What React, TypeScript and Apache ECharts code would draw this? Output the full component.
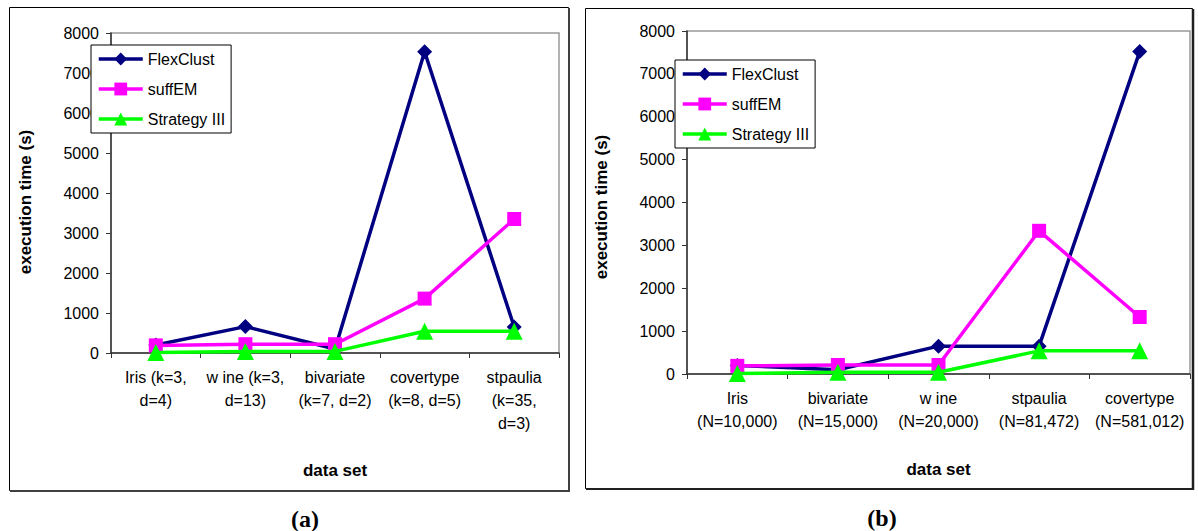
import React, { useEffect, useRef } from "react";
import * as echarts from "echarts";

const seriesNames = ["FlexClust", "suffEM", "Strategy III"];
const seriesColors = ["#000080", "#FF00FF", "#00FF00"];
const seriesSymbols = ["diamond", "rect", "triangle"];
const seriesSymbolSizes = [15, 14, 17];

const yTicks = { min: 0, max: 8000, interval: 1000 };

const aCategories = [
  "Iris (k=3,\nd=4)",
  "w ine (k=3,\nd=13)",
  "bivariate\n(k=7, d=2)",
  "covertype\n(k=8, d=5)",
  "stpaulia\n(k=35,\nd=3)",
];
const aFlexClust = [200, 660, 100, 7530, 650];
const aSuffEM = [190, 220, 220, 1360, 3350];
const aStrategy = [10, 40, 40, 545, 545];

const bCategories = [
  "Iris\n(N=10,000)",
  "bivariate\n(N=15,000)",
  "w ine\n(N=20,000)",
  "stpaulia\n(N=81,472)",
  "covertype\n(N=581,012)",
];
const bFlexClust = [200, 100, 650, 650, 7520];
const bSuffEM = [190, 210, 210, 3340, 1330];
const bStrategy = [10, 40, 40, 540, 545];

const FONT = "'Liberation Sans', Arial, sans-serif";

export default function App() {
  const ref = useRef<HTMLDivElement>(null);

  useEffect(() => {
    if (!ref.current) return;
    const chart = echarts.init(ref.current, null, { renderer: "svg" });

    const makeX = (gridIndex: number, data: string[], nameGap: number) => ({
      type: "category",
      gridIndex,
      data,
      boundaryGap: true,
      name: "data set",
      nameLocation: "middle",
      nameGap,
      nameTextStyle: { fontFamily: FONT, fontSize: 17, fontWeight: "bold", color: "#000" },
      axisLine: { show: true, lineStyle: { color: "#333", width: 1.5 } },
      axisTick: { show: true, alignWithLabel: false, length: 5, inside: false, lineStyle: { color: "#333" } },
      axisLabel: {
        interval: 0,
        margin: 13,
        fontFamily: FONT,
        fontSize: 16,
        lineHeight: 23,
        color: "#000",
      },
      splitLine: { show: false },
    });

    const makeY = (gridIndex: number, padRight: number) => ({
      type: "value",
      gridIndex,
      min: yTicks.min,
      max: yTicks.max,
      interval: yTicks.interval,
      name: "execution time (s)",
      nameLocation: "middle",
      nameGap: 77,
      nameTextStyle: {
        fontFamily: FONT,
        fontSize: 17,
        fontWeight: "bold",
        color: "#000",
        padding: [0, padRight, 0, 0],
      },
      axisLine: { show: true, lineStyle: { color: "#333", width: 1.5 } },
      axisTick: { show: true, length: 5, inside: false, lineStyle: { color: "#333" } },
      axisLabel: {
        margin: 12,
        fontFamily: FONT,
        fontSize: 16,
        color: "#000",
        formatter: (v: number) => String(v),
      },
      splitLine: { show: false },
    });

    const makeSeries = (idx: number, axisIndex: number, data: number[]) => ({
      type: "line",
      name: seriesNames[idx],
      xAxisIndex: axisIndex,
      yAxisIndex: axisIndex,
      data,
      symbol: seriesSymbols[idx],
      symbolSize: seriesSymbolSizes[idx],
      showAllSymbol: true,
      lineStyle: { color: seriesColors[idx], width: 3.5 },
      itemStyle: { color: seriesColors[idx] },
      z: 3 + idx,
    });

    const makeLegend = (left: number, top: number) => ({
      orient: "vertical",
      left,
      top,
      data: seriesNames,
      itemWidth: 44,
      itemHeight: 16,
      itemGap: 12,
      padding: [5, 6, 5, 6],
      borderColor: "#000",
      borderWidth: 1,
      backgroundColor: "#fff",
      lineStyle: { width: 3.5 },
      textStyle: { fontFamily: FONT, fontSize: 16, lineHeight: 18, color: "#000" },
      selectedMode: false,
    });

    chart.setOption({
      animation: false,
      backgroundColor: "#fff",
      grid: [
        { left: 111, top: 33, width: 448, height: 320, show: true, borderColor: "#999", borderWidth: 1.5, backgroundColor: "transparent" },
        { left: 687, top: 31, width: 503, height: 343, show: true, borderColor: "#999", borderWidth: 1.5, backgroundColor: "transparent" },
      ],
      xAxis: [makeX(0, aCategories, 109), makeX(1, bCategories, 87)],
      yAxis: [makeY(0, 18), makeY(1, 9)],
      legend: [makeLegend(91, 45), makeLegend(675, 60)],
      series: [
        makeSeries(0, 0, aFlexClust),
        makeSeries(1, 0, aSuffEM),
        makeSeries(2, 0, aStrategy),
        makeSeries(0, 1, bFlexClust),
        makeSeries(1, 1, bSuffEM),
        makeSeries(2, 1, bStrategy),
      ],
      graphic: [
        { type: "rect", shape: { x: 9.5, y: 7.5, width: 559, height: 483 }, style: { fill: "none", stroke: "#000", lineWidth: 1 }, z: 0 },
        { type: "line", shape: { x1: 10, y1: 491, x2: 570, y2: 491 }, style: { stroke: "#404040", lineWidth: 2 } },
        { type: "line", shape: { x1: 569, y1: 8, x2: 569, y2: 492 }, style: { stroke: "#404040", lineWidth: 2 } },
        { type: "rect", shape: { x: 585.5, y: 8.5, width: 607, height: 480 }, style: { fill: "none", stroke: "#000", lineWidth: 1 }, z: 0 },
        { type: "line", shape: { x1: 586, y1: 489, x2: 1194, y2: 489 }, style: { stroke: "#202020", lineWidth: 2 } },
        { type: "line", shape: { x1: 1193, y1: 9, x2: 1193, y2: 490 }, style: { stroke: "#202020", lineWidth: 2.5 } },
        {
          type: "text",
          x: 305,
          y: 519,
          style: { text: "(a)", font: "bold 24px 'Liberation Serif', 'Times New Roman', serif", fill: "#000", align: "center", verticalAlign: "middle" },
        },
        {
          type: "text",
          x: 882,
          y: 518,
          style: { text: "(b)", font: "bold 24px 'Liberation Serif', 'Times New Roman', serif", fill: "#000", align: "center", verticalAlign: "middle" },
        },
      ],
    });

    return () => chart.dispose();
  }, []);

  return (
    <div
      ref={ref}
      style={{ position: "absolute", left: 0, top: 0, width: 1198, height: 531, background: "#fff" }}
    />
  );
}
